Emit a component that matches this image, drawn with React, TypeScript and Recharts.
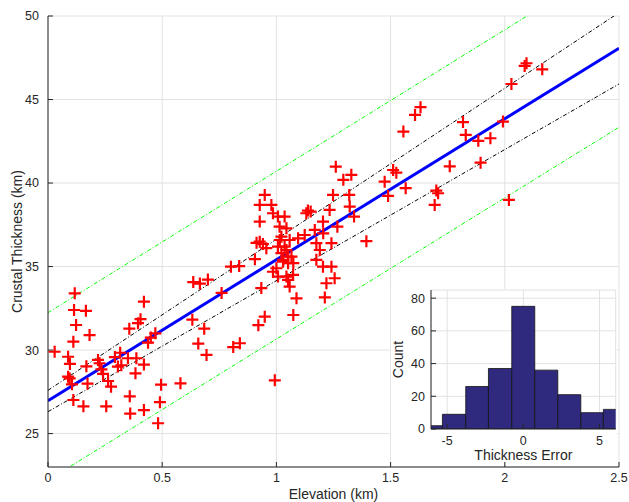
import React from "react";
import {
  ComposedChart,
  Scatter,
  Line,
  XAxis,
  YAxis,
  CartesianGrid,
  ReferenceArea,
  Label,
} from "recharts";

// station elevation (km) vs crustal thickness (km)
const elevation = [
  0.029, 0.088, 0.088, 0.096, 0.095, 0.105, 0.111, 0.111, 0.114, 0.117, 0.123, 0.155,
  0.166, 0.168, 0.173, 0.182, 0.219, 0.226, 0.234, 0.241, 0.255, 0.263, 0.276, 0.293,
  0.306, 0.316, 0.321, 0.35, 0.356, 0.358, 0.36, 0.383, 0.387, 0.394, 0.405, 0.42,
  0.42, 0.42, 0.438, 0.45, 0.47, 0.482, 0.49, 0.495,
  0.58, 0.632, 0.636, 0.658, 0.665, 0.684, 0.694, 0.7, 0.76, 0.801, 0.811, 0.837, 0.84,
  0.906, 0.913, 0.921, 0.927, 0.927, 0.927, 0.934, 0.941, 0.949, 0.949, 0.956, 0.978,
  0.985, 0.985, 0.993, 1.0, 1.007, 1.007, 1.007, 1.014, 1.015, 1.022, 1.022, 1.029,
  1.03, 1.036, 1.036, 1.044, 1.044, 1.044, 1.051, 1.051, 1.052, 1.058, 1.058, 1.066,
  1.073, 1.074, 1.074, 1.088, 1.095, 1.124, 1.131, 1.138, 1.15, 1.168, 1.175, 1.175,
  1.19, 1.204, 1.205, 1.204, 1.212, 1.219, 1.233, 1.241, 1.241, 1.248, 1.255, 1.26,
  1.267, 1.293, 1.319, 1.321, 1.328, 1.34, 1.394,
  1.474, 1.489, 1.511, 1.525, 1.556, 1.566, 1.607, 1.631, 1.693, 1.7, 1.708, 1.759,
  1.817, 1.829, 1.884, 1.894, 1.937, 1.992, 2.018, 2.029, 2.087, 2.095, 2.164,
];
const thickness = [
  29.9, 29.6, 28.41, 29.17, 28.3, 27.95, 27.01, 30.5, 32.4, 33.4, 31.5, 26.63,
  32.35, 29.03, 27.99, 30.9, 29.41, 29.21, 28.85, 28.57, 26.63, 28.15, 27.81, 29.58,
  29.01, 29.84, 29.09, 29.51, 31.28, 27.23, 26.2, 28.61, 29.51, 31.61, 31.85, 32.9,
  29.13, 26.41, 30.44, 30.75, 31.0, 25.62, 26.88, 27.93,
  28.01, 31.82, 34.07, 30.39, 33.98, 31.28, 29.71, 34.22, 33.42, 34.99, 30.18, 35.03, 30.41,
  35.44, 36.42, 31.49, 36.49, 38.69, 37.69, 33.71, 36.35, 32.0, 39.29, 36.1, 38.69,
  38.19, 34.69, 28.19, 34.9, 37.99, 36.19, 34.4, 37.39, 36.59, 36.79, 35.8, 35.29,
  35.4, 37.99, 36.19, 37.29, 35.99, 34.4, 35.2, 34.2, 35.59, 36.59, 33.8, 35.59,
  34.5, 35.2, 32.1, 33.1, 36.69, 36.89, 38.19, 38.35, 38.29, 37.19, 36.4, 35.4,
  35.99, 37.69, 36.99, 34.99, 33.15, 34.0, 38.39, 36.4, 34.99, 39.29, 34.3, 40.98,
  37.39, 40.19, 39.29, 38.59, 40.49, 37.99, 36.52,
  40.08, 39.23, 40.78, 40.62, 43.08, 39.69, 44.08, 44.54, 38.69, 39.55, 39.39, 41.0,
  43.65, 42.88, 42.53, 41.22, 42.68, 43.68, 38.99, 45.93, 47.01, 47.17, 46.81,
];

// fitted line and bands, at both ends of the elevation range
const lineX = [0, 2.5];
const fitY = [26.97, 48.07];
const confUpper = [27.59, 50.2];
const confLower = [26.31, 45.93];
const predUpper = [32.24, 53.41];
const predLower = [22.21, 43.34];

const xTicks = [0, 0.5, 1, 1.5, 2, 2.5];
const yTicks = [25, 30, 35, 40, 45, 50];

// histogram of thickness error
const binEdges = [-6.82, -5.31, -3.78, -2.29, -0.76, 0.75, 2.26, 3.77, 5.25, 6.76];
const binCounts = [2, 9, 26, 37, 75, 36, 21, 10, 12];
const errTicks = [-5, 0, 5];
const countTicks = [0, 20, 40, 60, 80];

const INK = "#262626";
const GRID = "#e2e2e2";
const FONT = "'Liberation Sans', Arial, Helvetica, sans-serif";
const tickStyle = { fill: INK, fontSize: 12.5 };

const points = elevation.map((x, i) => ({ x, y: thickness[i] }));
const toLine = (ys: number[]) => lineX.map((x, i) => ({ x, y: ys[i] }));

function Plus(props: any) {
  const { cx, cy } = props;
  if (cx == null || cy == null) return null;
  return (
    <path
      d={`M${cx - 6},${cy}h12M${cx},${cy - 6}v12`}
      stroke="#ff0000"
      strokeWidth={2.2}
      fill="none"
    />
  );
}

function Histogram() {
  return (
    <ComposedChart width={226} height={173} margin={{ top: 1, right: 1.3, bottom: 0, left: 0 }}>
      <CartesianGrid stroke={GRID} />
      <XAxis
        type="number"
        dataKey="x"
        domain={[-6.06, 6.06]}
        allowDataOverflow
        ticks={errTicks}
        height={33}
        stroke={INK}
        tickSize={-5}
        tickMargin={12}
        tick={tickStyle}
      >
        <Label
          content={(p: any) => {
            const vb = p.viewBox;
            return (
              <text x={vb.x + vb.width / 2} y={vb.y + 31} textAnchor="middle" fill={INK} fontSize={14}>
                Thickness Error
              </text>
            );
          }}
        />
      </XAxis>
      <XAxis xAxisId="top" orientation="top" type="number" domain={[-6.06, 6.06]} allowDataOverflow
        ticks={errTicks} height={0} stroke={INK} tickSize={-5} tick={false} />
      <YAxis
        type="number"
        domain={[0, 85]}
        allowDataOverflow
        ticks={countTicks}
        width={40}
        stroke={INK}
        tickSize={-5}
        tickMargin={11}
        tick={tickStyle}
      >
        <Label
          content={(p: any) => {
            const vb = p.viewBox;
            const cx = vb.x + 6.5;
            const cy = vb.y + vb.height / 2;
            return (
              <text x={cx} y={cy} transform={`rotate(-90 ${cx} ${cy})`} textAnchor="middle"
                dominantBaseline="central" fill={INK} fontSize={14}>
                Count
              </text>
            );
          }}
        />
      </YAxis>
      <YAxis yAxisId="right" orientation="right" type="number" domain={[0, 85]} allowDataOverflow
        ticks={countTicks} width={0} stroke={INK} tickSize={-5} tick={false} />
      {binCounts.map((c, i) => (
        <ReferenceArea
          key={i}
          x1={binEdges[i]}
          x2={binEdges[i + 1]}
          y1={0}
          y2={c}
          ifOverflow="hidden"
          fill="#302a7f"
          fillOpacity={1}
          stroke="#111"
          strokeWidth={0.8}
        />
      ))}
    </ComposedChart>
  );
}

export default function App() {
  return (
    <div style={{ position: "absolute", left: 0, top: 0, width: 629, height: 502, background: "#fff", fontFamily: FONT }}>
      <ComposedChart width={629} height={502} margin={{ top: 16, right: 10, bottom: 0, left: 0 }}>
        <CartesianGrid stroke={GRID} />
        <XAxis
          type="number"
          dataKey="x"
          domain={[0, 2.5]}
          allowDataOverflow
          ticks={xTicks}
          height={35}
          stroke={INK}
          tickSize={-5}
          tickMargin={11}
          tick={tickStyle}
        >
          <Label value="Elevation (km)" position="insideBottom" offset={3} fill={INK} fontSize={14} />
        </XAxis>
        <XAxis xAxisId="top" orientation="top" type="number" domain={[0, 2.5]} allowDataOverflow
          ticks={xTicks} height={0} stroke={INK} tickSize={-5} tick={false} />
        <YAxis
          type="number"
          dataKey="y"
          domain={[23, 50]}
          allowDataOverflow
          ticks={yTicks}
          width={48}
          stroke={INK}
          tickSize={-5}
          tickMargin={14}
          tick={tickStyle}
        >
          <Label
            content={(p: any) => {
              const vb = p.viewBox;
              const cx = vb.x + 17;
              const cy = vb.y + vb.height / 2;
              return (
                <text x={cx} y={cy} transform={`rotate(-90 ${cx} ${cy})`} textAnchor="middle"
                  dominantBaseline="central" fill={INK} fontSize={14}>
                  Crustal Thickness (km)
                </text>
              );
            }}
          />
        </YAxis>
        <YAxis yAxisId="right" orientation="right" type="number" domain={[23, 50]} allowDataOverflow
          ticks={yTicks} width={0} stroke={INK} tickSize={-5} tick={false} />
        <Scatter data={points} dataKey="y" shape={<Plus />} isAnimationActive={false} />
        <Line data={toLine(predUpper)} dataKey="y" stroke="#00ff00" strokeWidth={1} strokeDasharray="4 2 1 2"
          dot={false} activeDot={false} isAnimationActive={false} />
        <Line data={toLine(predLower)} dataKey="y" stroke="#00ff00" strokeWidth={1} strokeDasharray="4 2 1 2"
          dot={false} activeDot={false} isAnimationActive={false} />
        <Line data={toLine(confUpper)} dataKey="y" stroke="#000" strokeWidth={1} strokeDasharray="4 2 1 2"
          dot={false} activeDot={false} isAnimationActive={false} />
        <Line data={toLine(confLower)} dataKey="y" stroke="#000" strokeWidth={1} strokeDasharray="4 2 1 2"
          dot={false} activeDot={false} isAnimationActive={false} />
        <Line data={toLine(fitY)} dataKey="y" stroke="#0000ff" strokeWidth={3}
          dot={false} activeDot={false} isAnimationActive={false} />
      </ComposedChart>
      <div style={{ position: "absolute", left: 391, top: 289, width: 226, height: 173, background: "#fff" }}>
        <Histogram />
      </div>
    </div>
  );
}
